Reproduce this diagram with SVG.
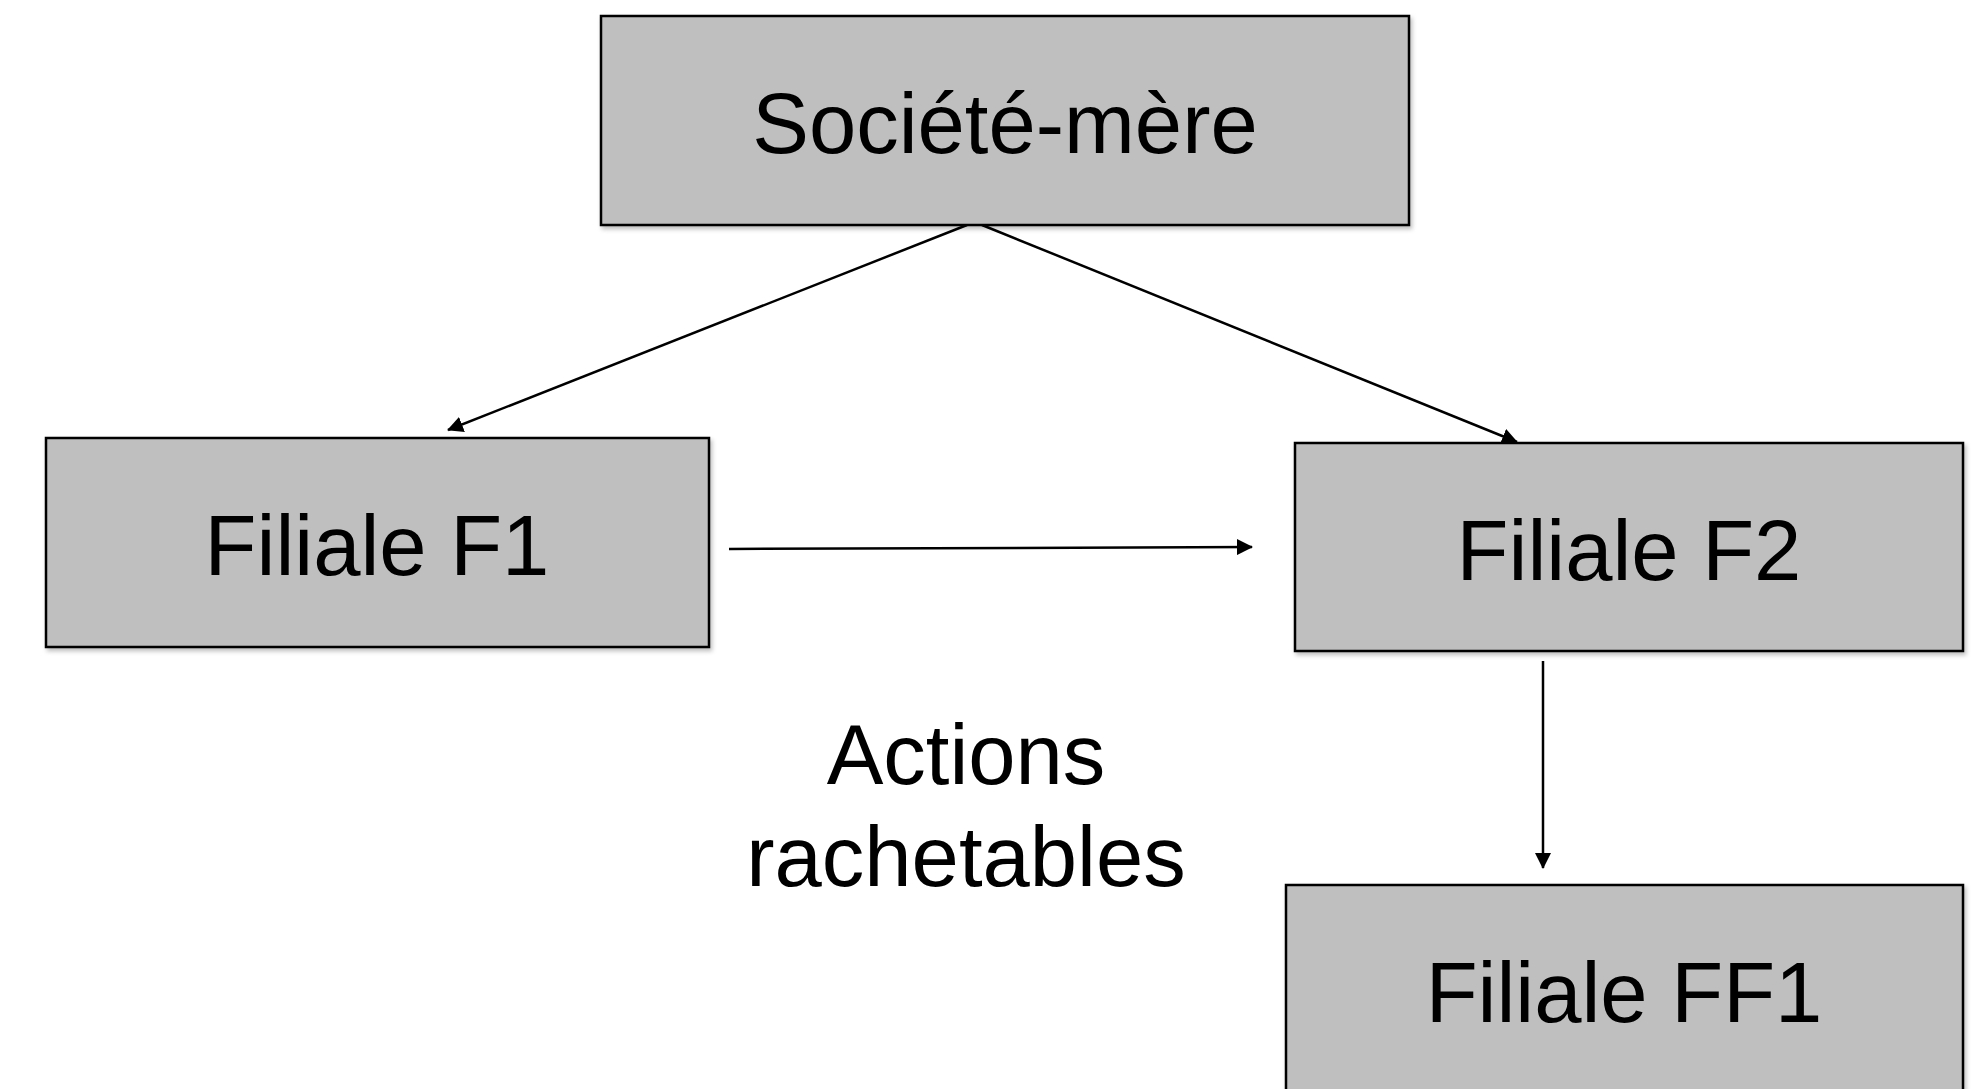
<svg xmlns="http://www.w3.org/2000/svg" width="1971" height="1089" viewBox="0 0 1971 1089">
<style>
.box{fill:#bfbfbf;stroke:#000;stroke-width:2.5;filter:url(#sh)}
.lbl{font-family:"Liberation Sans",Arial,sans-serif;font-size:85px;fill:#000;text-anchor:middle}
.con{stroke:#000;stroke-width:2.5;fill:none;marker-end:url(#ah)}
</style>
<defs>
<filter id="sh" x="-5%" y="-5%" width="110%" height="115%">
<feDropShadow dx="2" dy="3" stdDeviation="2" flood-color="#000" flood-opacity="0.25"/>
</filter>
<marker id="ah" markerUnits="userSpaceOnUse" markerWidth="16" markerHeight="16" viewBox="0 0 16 16" refX="15" refY="8" orient="auto">
<path d="M0,0 L16,8 L0,16 Z" fill="#000"/>
</marker>
</defs>
<rect width="1971" height="1089" fill="#fff"/>
<g id="connectors">
<line class="con" x1="967" y1="225" x2="448" y2="430"/>
<line class="con" x1="982" y1="225" x2="1517" y2="442"/>
<line class="con" x1="729" y1="549" x2="1252" y2="547"/>
<line class="con" x1="1543" y1="661" x2="1543" y2="868"/>
</g>
<g id="societe-mere">
<rect class="box" x="601" y="16" width="808" height="209"/>
<text class="lbl" x="1005" y="153">Société-mère</text>
</g>
<g id="filiale-f1">
<rect class="box" x="46" y="438" width="663" height="209"/>
<text class="lbl" x="377" y="575">Filiale F1</text>
</g>
<g id="filiale-f2">
<rect class="box" x="1295" y="443" width="668" height="208"/>
<text class="lbl" x="1629" y="580">Filiale F2</text>
</g>
<g id="filiale-ff1">
<rect class="box" x="1286" y="885" width="677" height="220"/>
<text class="lbl" x="1624" y="1022">Filiale FF1</text>
</g>
<g id="label-actions">
<text class="lbl" x="966" y="784">Actions</text>
<text class="lbl" x="966" y="886">rachetables</text>
</g>
</svg>
